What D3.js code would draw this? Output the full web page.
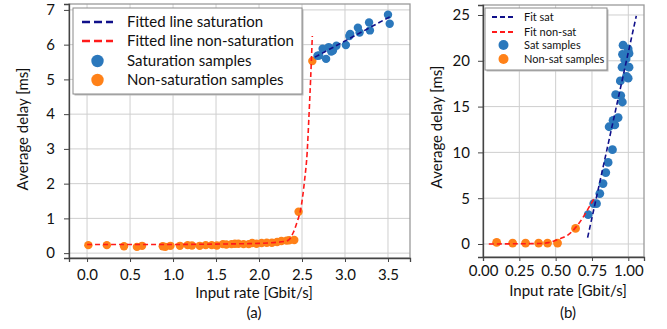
<!DOCTYPE html>
<html><head><meta charset="utf-8">
<script src="https://cdn.jsdelivr.net/npm/d3@7"></script>
<style>
body{margin:0;background:#fff}
svg{display:block;font-family:Lato,'Open Sans',sans-serif;}
</style>
</head><body>
<svg id="c" width="667" height="329"></svg>
<script>
// ---------- DATA ----------
// Panel (a)
const aNonSatSamples = [[0.015,0.23],[0.23,0.23],[0.43,0.2],[0.58,0.18],[0.64,0.21],[0.88,0.2],[0.91,0.18],[0.97,0.21],[1.08,0.21],[1.17,0.23],[1.22,0.22],[1.31,0.21],[1.38,0.23],[1.45,0.23],[1.51,0.22],[1.58,0.26],[1.62,0.25],[1.68,0.26],[1.72,0.27],[1.76,0.27],[1.82,0.26],[1.88,0.26],[1.92,0.29],[1.97,0.27],[2.03,0.29],[2.09,0.3],[2.15,0.3],[2.21,0.32],[2.26,0.35],[2.32,0.36],[2.35,0.37],[2.41,0.38],[2.46,1.19],[2.62,5.53]];
const aSatSamples = [[2.68,5.68],[2.70,5.69],[2.74,5.88],[2.78,5.59],[2.81,5.93],[2.84,5.80],[2.86,5.83],[2.90,5.97],[3.01,5.99],[3.05,6.25],[3.06,6.31],[3.15,6.49],[3.17,6.35],[3.28,6.64],[3.29,6.41],[3.50,6.86],[3.52,6.60]];
const aFitNonSat = [[0.0,0.25],[0.5,0.25],[1.0,0.25],[1.5,0.26],[1.8,0.27],[2.0,0.28],[2.2,0.31],[2.3,0.34],[2.34,0.37],[2.40,0.6],[2.45,0.95],[2.48,1.2],[2.53,2.1],[2.56,2.9],[2.58,3.9],[2.60,5.0],[2.62,6.25]];
const aFitSat = [[2.65,5.64],[3.55,6.84]];
const aXTicks = [0,0.5,1,1.5,2,2.5,3,3.5];
const aYTicks = [0,1,2,3,4,5,6,7];
const aLegendLabels = ["Fitted line saturation","Fitted line non-saturation","Saturation samples","Non-saturation samples"];

// Panel (b)
const bNonSatSamples = [[0.094,0.18],[0.204,0.1],[0.293,0.1],[0.383,0.1],[0.444,0.1],[0.513,0.1],[0.637,1.7]];
const bSatSamples = [[0.724,3.2],[0.762,4.4],[0.781,4.4],[0.804,5.5],[0.826,6.6],[0.845,7.8],[0.861,8.9],[0.891,10.3],[0.868,12.8],[0.907,13.0],[0.895,13.5],[0.93,13.8],[0.913,16.3],[0.948,16.2],[0.959,15.5],[0.945,17.8],[0.987,18.3],[0.999,18.1],[0.957,19.3],[1.005,19.3],[0.975,20.1],[0.96,20.7],[0.964,21.7],[0.999,21.3],[1.005,20.8],[0.985,20.2]];
const bFitNonSat = [[0.04,0.0],[0.2,0.02],[0.39,0.05],[0.45,0.15],[0.506,0.44],[0.55,0.7],[0.586,1.0],[0.643,1.9],[0.70,3.2],[0.74,4.3],[0.77,5.1]];
const bFitSat = [[0.72,0.7],[1.055,24.9]];
const bXTicks = [0,0.25,0.5,0.75,1.0];
const bYTicks = [0,5,10,15,20,25];
const bLegendLabels = ["Fit sat","Fit non-sat","Sat samples","Non-sat samples"];

const xTitle = "Input rate [Gbit/s]";
const yTitle = "Average delay [ms]";

// ---------- STYLE ----------
const BLUE = "#2b78bc", ORANGE = "#ff8118", NAVY = "#10108a", RED = "#ff1a1a";
const svg = d3.select("#c");

function panel(o){
  const x = d3.scaleLinear().domain(o.xd).range([o.l, o.r]);
  const y = d3.scaleLinear().domain(o.yd).range([o.b, o.t]);
  const g = svg.append("g");
  // grid
  g.selectAll(".gx").data(o.xt).enter().append("line")
    .attr("x1",d=>x(d)).attr("x2",d=>x(d)).attr("y1",o.t).attr("y2",o.b)
    .attr("stroke","#cfcfcf").attr("stroke-width",1);
  g.selectAll(".gy").data(o.yt).enter().append("line")
    .attr("y1",d=>y(d)).attr("y2",d=>y(d)).attr("x1",o.l).attr("x2",o.r)
    .attr("stroke","#cfcfcf").attr("stroke-width",1);
  // frame
  g.append("rect").attr("x",o.l).attr("y",o.t).attr("width",o.r-o.l).attr("height",o.b-o.t)
    .attr("fill","none").attr("stroke","#9a9a9a").attr("stroke-width",1.3);
  // axes
  const xa = g.append("g").attr("transform",`translate(0,${o.b})`)
    .call(d3.axisBottom(x).tickValues(o.xt).tickFormat(d3.format(o.xf)).tickSize(4).tickPadding(o.xpad));
  const ya = g.append("g").attr("transform",`translate(${o.l},0)`)
    .call(d3.axisLeft(y).tickValues(o.yt).tickFormat(d3.format("d")).tickSize(5).tickPadding(o.ypad));
  [xa,ya].forEach(a=>{
    a.select(".domain").attr("stroke","#444").attr("stroke-width",1.3);
    a.selectAll(".tick line").attr("stroke","#444");
    a.selectAll("text").attr("font-size",15).attr("fill","#111").attr("font-family","Lato, sans-serif");
  });
  // samples
  const dot = (data,col,r)=> g.append("g").selectAll("circle").data(data).enter().append("circle")
      .attr("cx",d=>x(d[0])).attr("cy",d=>y(d[1])).attr("r",r).attr("fill",col);
  dot(o.nonSat, ORANGE, o.mr);
  dot(o.sat, BLUE, o.mr);
  // fitted lines
  const ln = d3.line().x(d=>x(d[0])).y(d=>y(d[1])).curve(d3.curveMonotoneX);
  g.append("path").datum(o.fitNon).attr("d",ln).attr("fill","none").attr("stroke",RED)
    .attr("stroke-width",1.6).attr("stroke-dasharray","5,3");
  g.append("path").datum(o.fitSat).attr("d",ln).attr("fill","none").attr("stroke",NAVY)
    .attr("stroke-width",1.6).attr("stroke-dasharray","5,3");
  // titles
  g.append("text").attr("x",o.xtx).attr("y",o.xty).attr("text-anchor","middle")
    .attr("font-size",15).attr("fill","#111").text(xTitle);
  g.append("text").attr("x",o.xtx).attr("y",o.subY).attr("text-anchor","middle")
    .attr("font-size",15).attr("fill","#111").text(o.sub);
  g.append("text").attr("transform",`translate(${o.ytx},${o.yty}) rotate(-90)`)
    .attr("text-anchor","middle").attr("font-size",15).attr("fill","#111").text(yTitle);
  // legend
  const L = o.leg;
  const lg = svg.append("g");
  lg.append("rect").attr("x",L.x+1.5).attr("y",L.y+1.5).attr("width",L.w).attr("height",L.h).attr("fill","#bbb");
  lg.append("rect").attr("x",L.x).attr("y",L.y).attr("width",L.w).attr("height",L.h)
    .attr("fill","#fff").attr("stroke","#8a8a8a").attr("stroke-width",1);
  const cols = [NAVY, RED, BLUE, ORANGE];
  o.labels.forEach((t,i)=>{
    const yy = L.rows[i];
    if(i<2){
      lg.append("line").attr("x1",L.lx1).attr("x2",L.lx2).attr("y1",yy).attr("y2",yy)
        .attr("stroke",cols[i]).attr("stroke-width",L.lw).attr("stroke-dasharray",L.dash);
    } else {
      lg.append("circle").attr("cx",(L.lx1+L.lx2)/2).attr("cy",yy).attr("r",L.mr).attr("fill",cols[i]);
    }
    lg.append("text").attr("x",L.tx).attr("y",yy).attr("dy","0.35em")
      .attr("font-size",L.fs).attr("fill","#111").text(t);
  });
}

panel({l:69,r:410,t:4,b:258,xd:[-0.21,3.756],yd:[-0.14,7.17],xt:aXTicks,yt:aYTicks,xf:".1f",
  xpad:7,ypad:9,nonSat:aNonSatSamples,sat:aSatSamples,fitNon:aFitNonSat,fitSat:aFitSat,mr:4.2,
  xtx:254,xty:298,subY:318,sub:"(a)",ytx:28,yty:129,labels:aLegendLabels,
  leg:{x:73,y:8,w:229,h:86,rows:[22,41,61,80],lx1:82,lx2:113,tx:127,fs:15,lw:2.4,dash:"8,4",mr:6.2}});

panel({l:483,r:644,t:5,b:257,xd:[0,1.108],yd:[-1.42,26.09],xt:bXTicks,yt:bYTicks,xf:".2f",
  xpad:4,ypad:8,nonSat:bNonSatSamples,sat:bSatSamples,fitNon:bFitNonSat,fitSat:bFitSat,mr:4.4,
  xtx:568,xty:296,subY:318,sub:"(b)",ytx:442,yty:127,labels:bLegendLabels,
  leg:{x:485,y:8,w:122,h:62,rows:[17,32,45,59],lx1:492,lx2:515,tx:524,fs:11,lw:1.8,dash:"5,3",mr:5}});
</script>
</body></html>
